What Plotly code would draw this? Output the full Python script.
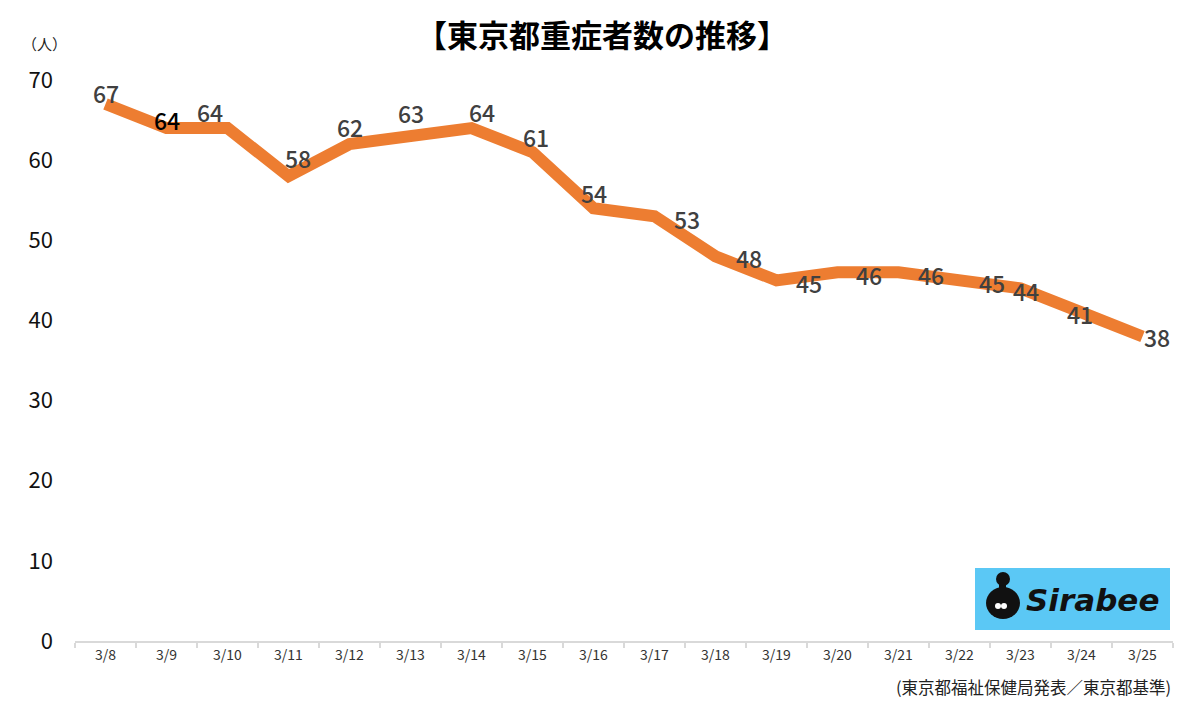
import plotly.graph_objects as go

dates = ["3/8", "3/9", "3/10", "3/11", "3/12", "3/13", "3/14", "3/15", "3/16",
         "3/17", "3/18", "3/19", "3/20", "3/21", "3/22", "3/23", "3/24", "3/25"]
severe = [67, 64, 64, 58, 62, 63, 64, 61, 54, 53, 48, 45, 46, 46, 45, 44, 41, 38]
y_ticks = [0, 10, 20, 30, 40, 50, 60, 70]

title_text = "【東京都重症者数の推移】"
unit_text = "（人）"
source_text = "(東京都福祉保健局発表／東京都基準)"

# label offsets in pixels (dx, dy downward)
label_offsets = [(0, -11), (0, -8), (-18, -16), (9, -18), (0, -17), (0, -23), (10, -16),
                 (3, -15), (0, -15), (32, 3), (33, 2), (32, 3), (31, 3), (32, 3),
                 (32, 3), (5, 3), (-2, 2), (14, 1)]

FONT = "Noto Sans CJK JP"
ORANGE = "#ED7D31"

# page has an 8px body margin; figure occupies screen (8,8)-(1200,705)
W, H = 1192, 697
PL, PR, PT, PB = 75, 1173, 80, 641  # plot area in screen px
L, R, T, B = PL - 8, 1200 - PR, PT - 8, 705 - PB
pw, ph = PR - PL, PB - PT


def px(x):
    return (x - PL) / pw


def py(y):
    return (PB - y) / ph


fig = go.Figure()
fig.add_trace(go.Scatter(
    x=dates, y=severe, mode="lines",
    line=dict(color=ORANGE, width=12),
    hoverinfo="x+y", showlegend=False,
))

annotations = []
for i, (d, v) in enumerate(zip(dates, severe)):
    dx, dy = label_offsets[i]
    annotations.append(dict(
        x=d, y=v, xref="x", yref="y", text=str(v), showarrow=False,
        xanchor="center", yanchor="middle",
        xshift=dx, yshift=-dy,
        font=dict(family=FONT, size=23, weight=500,
                  color="#000000" if i == 1 else "#404040"),
    ))


def screen_text(x, y, text, size, color, xanchor="center", family=FONT):
    return dict(x=px(x), y=py(y), xref="paper", yref="paper", text=text,
                showarrow=False, xanchor=xanchor, yanchor="middle",
                font=dict(family=family, size=size, color=color))


annotations.append(screen_text(602, 34, "<b>" + title_text + "</b>", 31, "#000000"))
annotations.append(screen_text(44, 43, unit_text, 15, "#222222"))
annotations.append(screen_text(1173, 687, source_text, 16.5, "#222222", xanchor="right"))
annotations.append(screen_text(1092, 600, "<b><i>Sirabee</i></b>", 31, "#111111",
                               family="DejaVu Sans"))

shapes = [
    dict(type="rect", x0=px(975), x1=px(1170), y0=py(630), y1=py(568),
         fillcolor="#5BC8F5"),
    dict(type="circle", x0=px(986), x1=px(1020), y0=py(619), y1=py(587),
         fillcolor="#111111"),
    dict(type="rect", x0=px(999), x1=px(1006), y0=py(592), y1=py(580),
         fillcolor="#111111"),
    dict(type="circle", x0=px(996), x1=px(1010), y0=py(586), y1=py(572),
         fillcolor="#111111"),
    dict(type="circle", x0=px(995), x1=px(1001), y0=py(609), y1=py(603),
         fillcolor="#ffffff"),
    dict(type="circle", x0=px(1001), x1=px(1007), y0=py(609), y1=py(603),
         fillcolor="#ffffff"),
]
for s in shapes:
    s.update(xref="paper", yref="paper", line=dict(width=0), layer="above")

fig.update_layout(
    width=W, height=H,
    margin=dict(l=L, r=R, t=T, b=B, pad=0),
    paper_bgcolor="white", plot_bgcolor="white",
    annotations=annotations, shapes=shapes,
    xaxis=dict(
        type="category", showgrid=False, zeroline=False,
        showline=True, linecolor="#D9D9D9", linewidth=2,
        ticks="outside", tickson="boundaries", ticklen=5, tickcolor="#D9D9D9", tickwidth=2,
        tickfont=dict(family=FONT, size=14, color="#333333"),
        range=[-0.5, len(dates) - 0.5],
    ),
    yaxis=dict(
        range=[0, 70], tickvals=y_ticks, showgrid=False, zeroline=False, showline=False,
        ticks="", ticklabelstandoff=21,
        tickfont=dict(family=FONT, size=22, color="#111111"),
    ),
)

fig.write_html("out.html")
